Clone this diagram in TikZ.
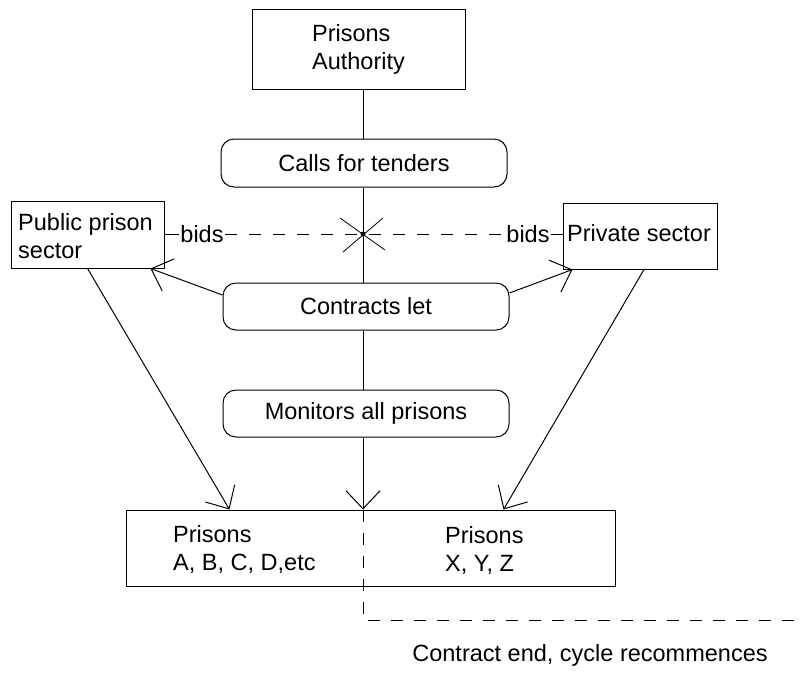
\documentclass[tikz,border=0pt]{standalone}
\usepackage{fontspec}
\setmainfont{Liberation Sans}
\usetikzlibrary{arrows.meta,shapes.misc}
\begin{document}
\begin{tikzpicture}[x=1pt,y=-1pt,
  every node/.style={font=\fontsize{23.5}{28}\selectfont},
  line/.style={draw=black,line width=1pt},
  sqbox/.style={line,rectangle,inner sep=0pt},
  rbox/.style={line,rectangle,rounded corners=13pt,inner sep=0pt},
  arr/.style={line,-{Straight Barb[length=18pt,width=34pt,line width=1pt]}},
  dash1/.style={line,dash pattern=on 12pt off 12pt},
  dash2/.style={line,dash pattern=on 12pt off 11pt},
  lbl/.style={inner sep=1pt}]
\useasboundingbox (0,0) rectangle (803,681);
\coordinate (axis) at (363,0);
% boxes
\node[sqbox,minimum width=213pt,minimum height=80pt,align=left] (auth) at (358.5,49) {Prisons\\Authority};
\node[rbox,minimum width=286pt,minimum height=48pt] (calls) at (364,163) {Calls for tenders};
\node[rbox,minimum width=286pt,minimum height=47pt] (contracts) at (366,306.5) {Contracts let};
\node[rbox,minimum width=286pt,minimum height=47pt] (monitors) at (366,413.5) {Monitors all prisons};
\node[sqbox,minimum width=153pt,minimum height=67pt] (public) at (87.5,234.5) {};
\node[anchor=west,align=left,inner sep=0pt] (publict) at (18,236) {Public prison\\sector};
\node[sqbox,minimum width=154pt,minimum height=66pt] (private) at (640,236) {};
\node[anchor=west,inner sep=0pt] (privatet) at (567,233) {Private sector};
\node[sqbox,minimum width=489pt,minimum height=76pt] (prisons) at (370.5,548) {};
\node[anchor=west,align=left,inner sep=0pt] (prisonsL) at (173,549.5) {Prisons\\A, B, C, D,etc};
\node[anchor=west,align=left,inner sep=0pt] (prisonsR) at (445,550) {Prisons\\X, Y, Z};
\node[lbl] (bidsL) at (202,234) {bids};
\node[lbl] (bidsR) at (528,234) {bids};
\node[inner sep=0pt] (endlbl) at (590,655) {Contract end, cycle recommences};
% coordinates
\coordinate (cross) at (363,234);
\coordinate (mid) at (prisons.north -| axis);
\coordinate (turn) at (363,620);
\coordinate (endc) at (803,620);
% vertical chain
\draw[line] (auth.south -| axis) -- (calls.north -| axis);
\draw[line] (calls.south -| axis) -- (contracts.north -| axis);
\draw[line] (contracts.south -| axis) -- (monitors.north -| axis);
\draw[arr] (monitors.south -| axis) -- (mid);
% bids
\draw[line] (public.east |- bidsL.west) -- (bidsL.west);
\draw[line] (bidsR.east) -- (private.west |- bidsR.east);
\draw[dash1] (bidsL.east) -- (bidsR.west);
\draw[line,line width=0.8pt] ([shift={(-23,-16)}]cross) -- ([shift={(22,16)}]cross);
\draw[line,line width=0.8pt] ([shift={(20,-16)}]cross) -- ([shift={(-20,18)}]cross);
\fill (cross) circle (2.5pt);
% contracts arrows
\draw[arr] ([yshift=11.5pt]contracts.west) -- ([xshift=-14pt]public.south east);
\draw[arr] ([yshift=13.5pt]contracts.east) -- ([xshift=10pt]private.south west);
% to prisons
\draw[arr] (public.south) -- ([xshift=104pt]prisons.north west);
\draw[arr] ([xshift=4pt]private.south) -- ([xshift=-112pt]prisons.north east);
% cycle
\draw[dash2] (mid) -- (turn) -- (endc);
\end{tikzpicture}
\end{document}
